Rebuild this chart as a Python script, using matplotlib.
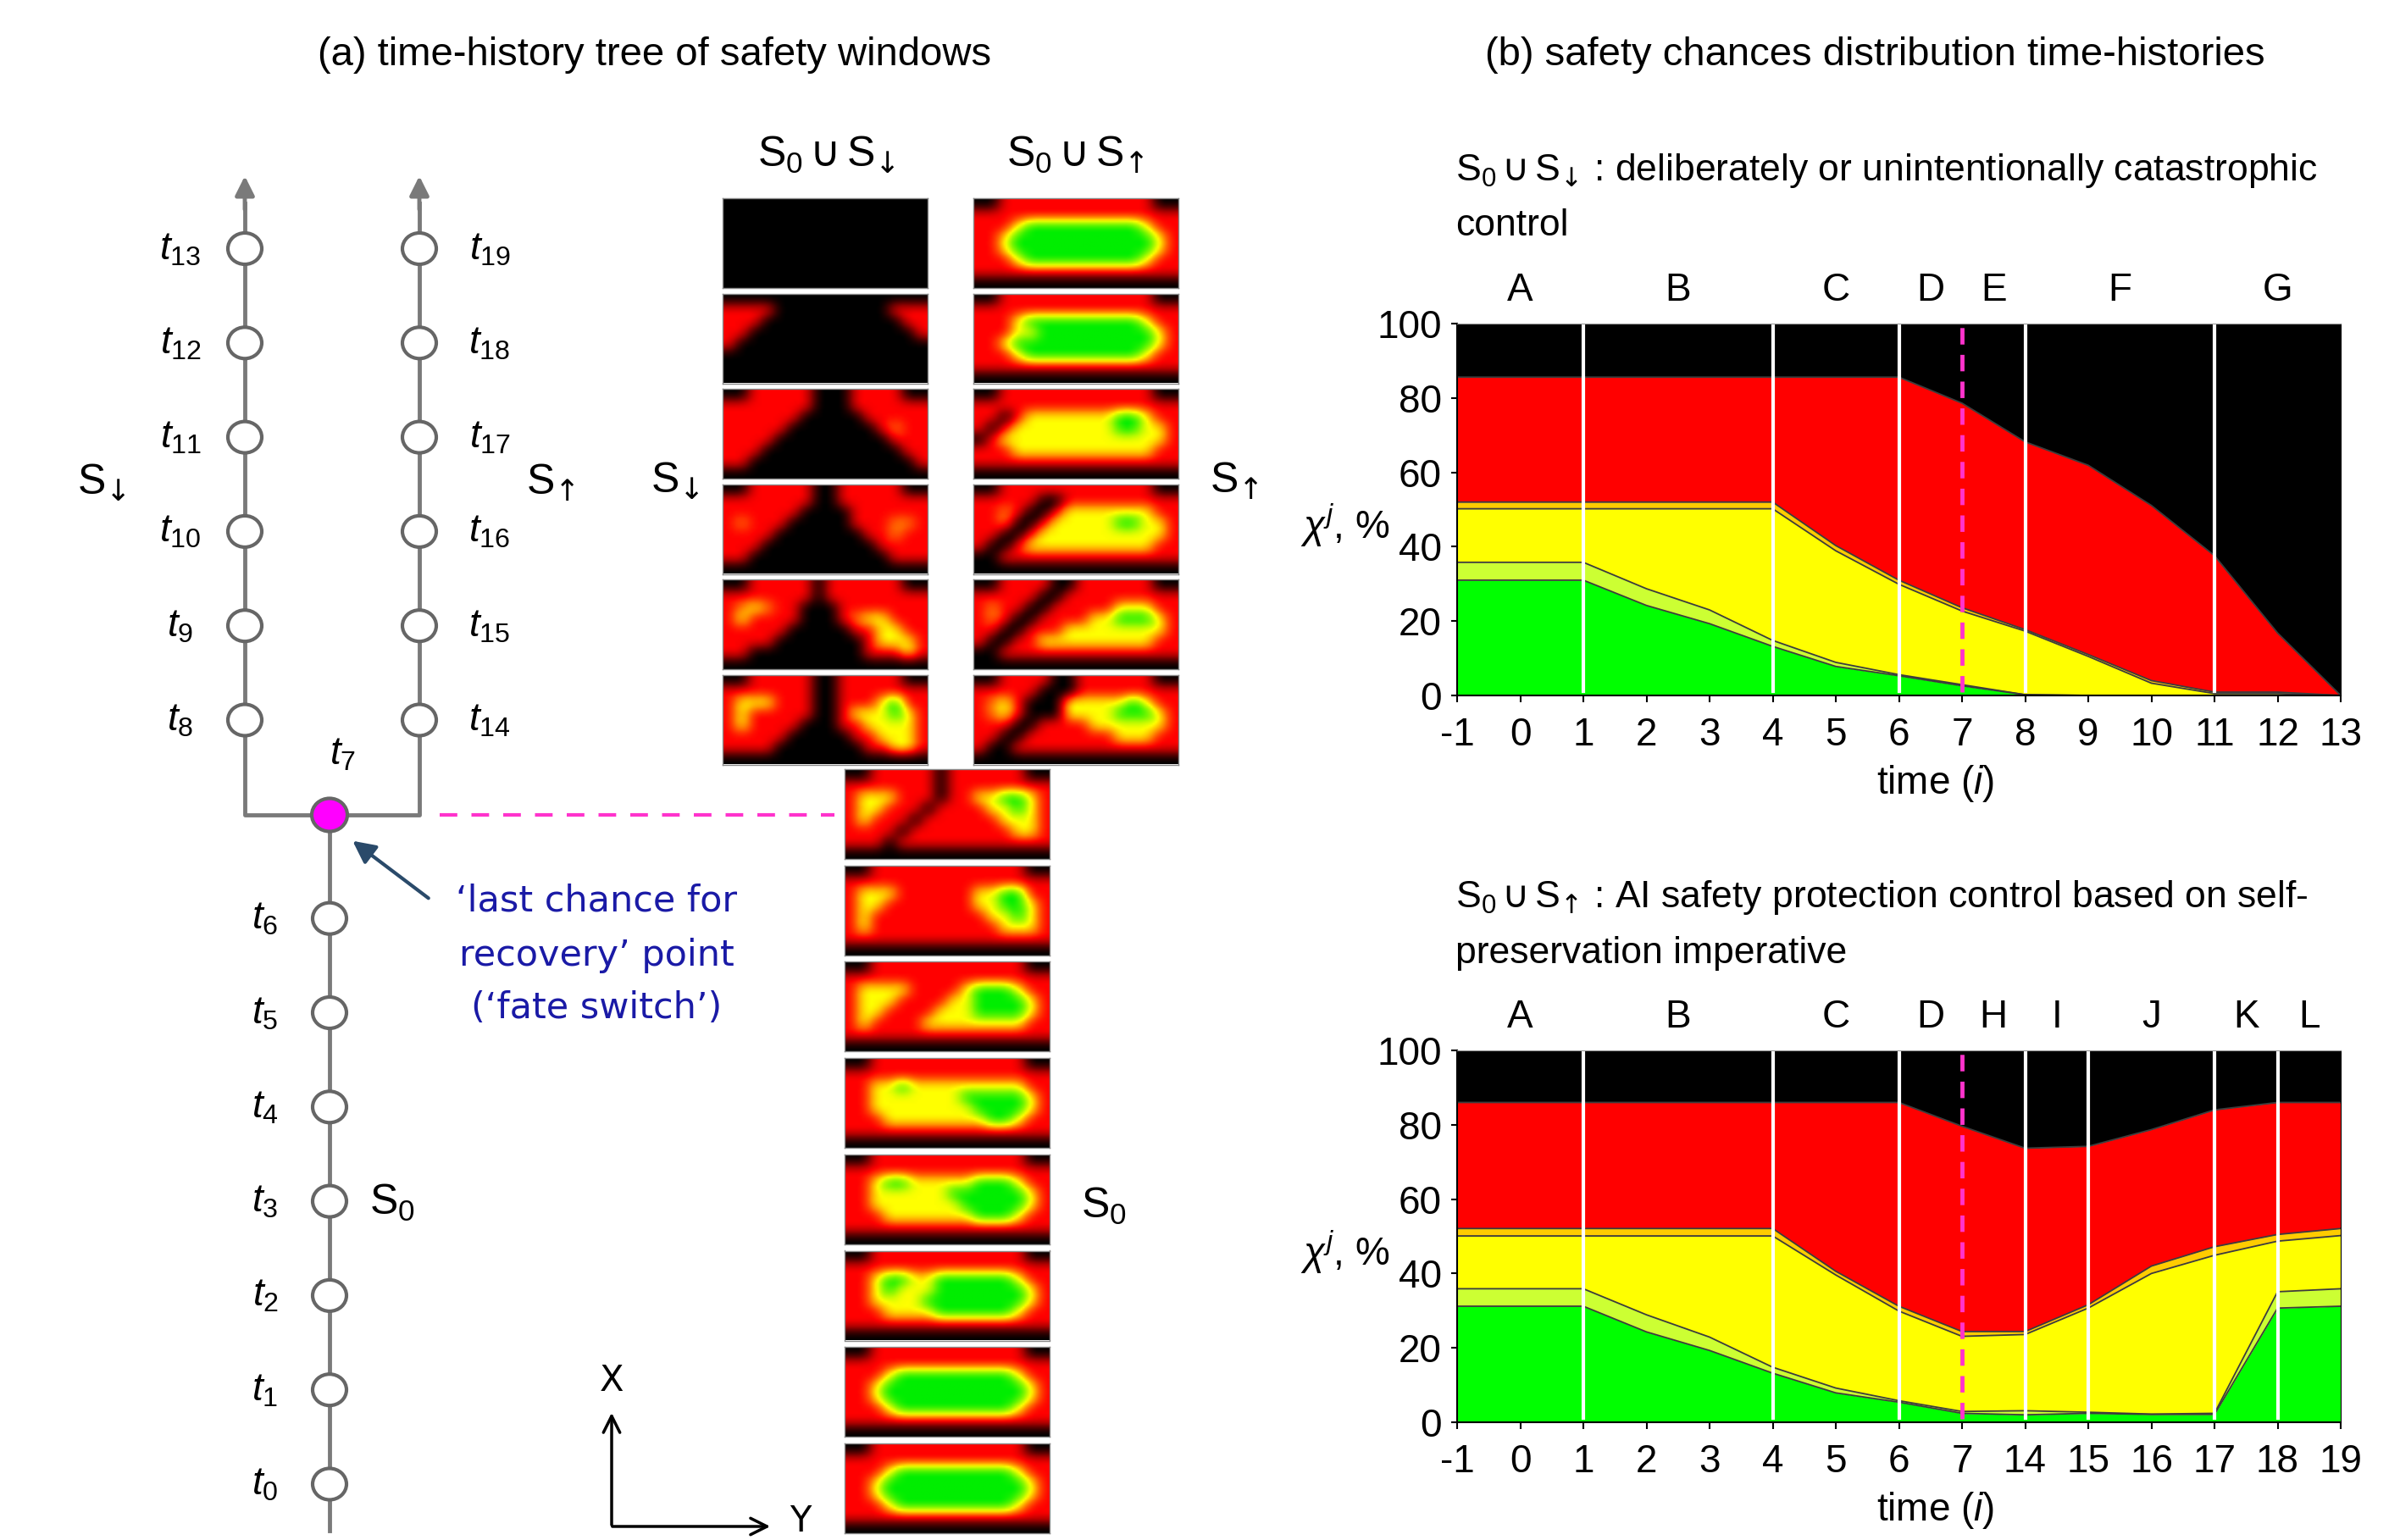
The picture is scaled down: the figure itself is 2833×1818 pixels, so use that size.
import numpy as np
import matplotlib
matplotlib.use('Agg')
import matplotlib.pyplot as plt
from matplotlib.colors import LinearSegmentedColormap
from matplotlib.patches import Ellipse

W, H = 2833, 1818
NARROW = ['Liberation Sans', 'DejaVu Sans']
plt.rcParams['mathtext.fontset'] = 'custom'
plt.rcParams['mathtext.rm'] = 'Liberation Sans'
plt.rcParams['mathtext.it'] = 'Liberation Sans:italic'
plt.rcParams['mathtext.sf'] = 'DejaVu Sans'
plt.rcParams['mathtext.fallback'] = 'stixsans'

# ---------------- chart data ----------------
times_top = ['-1', '0', '1', '2', '3', '4', '5', '6', '7', '8', '9', '10', '11', '12', '13']
times_bot = ['-1', '0', '1', '2', '3', '4', '5', '6', '7', '14', '15', '16', '17', '18', '19']
phases_top = ['A', 'B', 'C', 'D', 'E', 'F', 'G']
phases_bot = ['A', 'B', 'C', 'D', 'H', 'I', 'J', 'K', 'L']
white_top = ['1', '4', '6', '8', '11']
white_bot = ['1', '4', '6', '14', '15', '17', '18']
switch_time = '7'

# cumulative layer tops (%), bottom to top: green, light green, yellow, orange, red (black fills to 100)
green_top1 = [31, 31, 31, 24.2, 19.3, 13.2, 7.8, 5.3, 2.6, 0.2, 0, 0, 0, 0, 0]
lgreen_top1 = [35.8, 35.8, 35.8, 28.7, 23, 14.8, 8.9, 5.6, 2.9, 0.2, 0, 0, 0, 0, 0]
yellow_top1 = [50.2, 50.2, 50.2, 50.2, 50.2, 50.2, 38.9, 29.9, 22.7, 17.3, 10.5, 3.3, 0.5, 0.5, 0]
orange_top1 = [52, 52, 52, 52, 52, 52, 40.3, 31, 23.6, 17.7, 11, 4, 0.9, 0.9, 0]
red_top1 = [85.6, 85.6, 85.6, 85.6, 85.6, 85.6, 85.6, 85.6, 78.6, 68.2, 61.9, 51.1, 37.6, 16.8, 0]

green_top2 = [31.2, 31.2, 31.2, 24.3, 19.3, 13.2, 7.9, 5.4, 2.4, 2.0, 2.4, 2.1, 2.1, 30.7, 31.2]
lgreen_top2 = [35.9, 35.9, 35.9, 28.9, 22.9, 14.8, 9.2, 5.8, 2.9, 3.1, 2.7, 2.2, 2.4, 35.1, 35.9]
yellow_top2 = [50.1, 50.1, 50.1, 50.1, 50.1, 50.1, 39.6, 29.9, 23.1, 23.6, 30.7, 40, 44.9, 48.7, 50.2]
orange_top2 = [52.1, 52.1, 52.1, 52.1, 52.1, 52.1, 40.6, 31.2, 24.4, 24.4, 31.6, 42, 47.2, 50.5, 52.1]
red_top2 = [86, 86, 86, 86, 86, 86, 86, 86, 79.6, 73.7, 74.2, 78.7, 84, 86, 86]

layer_colors = ['#00ff00', '#ccff33', '#ffff00', '#ffcc00', '#ff0000', '#000000']

# ---------------- safety window tiles ----------------
# 0 black, 1 red, o orange, 2 yellow, 3 green
HEALTHY = ["0011111111111100",
           "1111111111111111",
           "1112333333333211",
           "1123333333333321",
           "1123333333333321",
           "1112333333333211",
           "1111111111111111",
           "0000000000000000"]
t2 = ["0011111111111100", "1111111111111111", "1123322333333211", "1123222333333321",
      "1122223333333321", "1112222333333211", "1111111111111111", "0000000000000000"]
t3 = ["0011111111111100", "1111111111111111", "1123322222333211", "1122222233333321",
      "1122222223333321", "1112222222333211", "1111111111111111", "0000000000000000"]
t4 = ["0011111111111100", "1111111111111111", "1122322222222211", "1122222223333321",
      "1122222222333321", "1112222222233211", "1111111111111111", "0000000000000000"]
t5 = ["0011111111111100", "1111111111111111", "1222211112333211", "1222111122333321",
      "1221111222333321", "1211112222222211", "1111111111111111", "0000000000000000"]
t6 = ["0011111111111100", "1111111111111111", "1222111111223311", "1221111111223321",
      "1211111111122321", "1211111111112221", "1111111111111111", "0000000000000000"]
t7 = ["0011111011111100", "1111111011111111", "1222111011223321", "1221110111122321",
      "1211101111112221", "1111011111111221", "1110111111111111", "0000000000000000"]
t8 = ["0011111001111100", "1111111001111111", "1222111001112311", "1211111001222321",
      "1211110001122221", "1111100000112221", "1111000000011221", "0000000000000000"]
t9 = ["0011111011111100", "1111111011111111", "1o2o110001111111", "1211110001o22111",
      "1111100000112211", "1111000000012221", "1100000000011121", "0000000000000000"]
t10 = ["0011111001111100", "1111111001111111", "1111110000111111", "1o11100000111oo1",
       "1111000000011o11", "1110000000001111", "1100000000000111", "0000000000000000"]
t11 = ["0011111000111100", "1111111000111111", "1111110000011111", "1111100000001o11",
       "1111000000000111", "1110000000000011", "1100000000000001", "0000000000000000"]
t12 = ["0000000000000000", "1111000000000111", "1110000000000011", "1100000000000001",
       "1000000000000000", "0000000000000000", "0000000000000000", "0000000000000000"]
t13 = ["0000000000000000"] * 8
t14 = ["0011110011111100", "1111100011111111", "1o21000222223211", "1o21000222233321",
       "1110011112222221", "1100111111122211", "1001111111111111", "0000000000000000"]
t15 = ["0011110011111100", "1111100111111111", "1o11001111122211", "1o10011112233321",
       "1100111222222221", "1001122222222211", "0011111111111111", "0000000000000000"]
t16 = ["0011111111111100", "1111100111111111", "11o1001222222211", "11o0012222233221",
       "1100122222222221", "1001222222222211", "0011111111111111", "0000000000000000"]
t17 = ["0011111111111100", "1111111111111111", "1101222222233211", "1012222222233221",
       "0122222222222221", "1112222222222211", "1111111111111111", "0000000000000000"]
t18 = ["0011111111111100", "1111111111111111", "1112333333333211", "1112233333333321",
       "1123333333333321", "1112333333333211", "1111111111111111", "0000000000000000"]

col_down = [t13, t12, t11, t10, t9, t8]
col_up = [HEALTHY, t18, t17, t16, t15, t14]
col_base = [t7, t6, t5, t4, t3, t2, HEALTHY, HEALTHY]

CODE = {'0': 0.0, '1': 1.0, 'o': 1.5, '2': 2.0, '3': 3.0}
safety_cmap = LinearSegmentedColormap.from_list(
    'safety', [(0, '#000000'), (1 / 3, '#ff0000'), (2 / 3, '#ffff00'), (1, '#00ee00')])

S_DOWN = '$\\mathrm{S}_{\\mathsf{\u2193}}$'
S_UP = '$\\mathrm{S}_{\\mathsf{\u2191}}$'
S0_DOWN = '$\\mathrm{S}_0\\,\\mathsf{\u222a}\\,\\mathrm{S}_{\\mathsf{\u2193}}$'
S0_UP = '$\\mathrm{S}_0\\,\\mathsf{\u222a}\\,\\mathrm{S}_{\\mathsf{\u2191}}$'


def fx(x):
    return x / W


def fy(y):
    return 1 - y / H


def smooth(grid, f=6, k=7):
    # upsample the coarse state grid and soften it like the blurred windows
    big = np.kron(grid, np.ones((f, f)))
    ker = np.ones(k) / k
    for axis in (0, 1):
        for _ in range(2):
            widths = [(k // 2, k // 2) if a == axis else (0, 0) for a in range(2)]
            pad = np.pad(big, widths, mode='edge')
            big = np.apply_along_axis(lambda v: np.convolve(v, ker, mode='valid'), axis, pad)
    return big


fig = plt.figure(figsize=(W / 100, H / 100), dpi=100)

# ---------------- canvas for the tree ----------------
cv = fig.add_axes([0, 0, 1, 1])
cv.set_xlim(0, W)
cv.set_ylim(H, 0)
cv.axis('off')

GRAY = '#7a7a7a'
trunk_x, left_x, right_x = 389, 289, 495
junction_y = 962
pitch = 111.3
trunk_ys = 1752 - pitch * np.arange(7)
branch_ys = 850 - pitch * np.arange(6)

cv.plot([trunk_x, trunk_x], [1807, junction_y], color=GRAY, lw=3.5, zorder=1)
cv.plot([left_x, left_x, right_x, right_x], [240, junction_y, junction_y, 240],
        color=GRAY, lw=3.5, zorder=1)
for bx in (left_x, right_x):
    cv.annotate('', xy=(bx, 205), xytext=(bx, 250),
                arrowprops=dict(arrowstyle='-|>', color=GRAY, lw=3.5, mutation_scale=34))

TFS = 33
for k, y in enumerate(trunk_ys):
    cv.add_patch(Ellipse((trunk_x, y), 40, 37, fc='white', ec='#666666', lw=3, zorder=3))
    cv.text(313, y, r'$t_{%d}$' % k, fontsize=TFS, ha='center', va='center')
for k, y in enumerate(branch_ys):
    cv.add_patch(Ellipse((left_x, y), 40, 37, fc='white', ec='#666666', lw=3, zorder=3))
    cv.add_patch(Ellipse((right_x, y), 40, 37, fc='white', ec='#666666', lw=3, zorder=3))
    cv.text(213, y, r'$t_{%d}$' % (k + 8), fontsize=TFS, ha='center', va='center')
    cv.text(578, y, r'$t_{%d}$' % (k + 14), fontsize=TFS, ha='center', va='center')
cv.add_patch(Ellipse((trunk_x, junction_y), 42, 39, fc='#ff00ff', ec='#666666', lw=3, zorder=3))
cv.text(404, 890, r'$t_{7}$', fontsize=TFS, ha='center', va='center')

cv.text(120, 570, S_DOWN, fontsize=36, ha='center', va='center')
cv.text(650, 570, S_UP, fontsize=36, ha='center', va='center')
cv.text(463, 1420, r'$\mathrm{S}_{0}$', fontsize=36, ha='center', va='center')

cv.plot([519, 985], [junction_y, junction_y], color='#ff33cc', lw=3, ls=(0, (5, 4)))

cv.annotate('', xy=(414, 991), xytext=(508, 1062),
            arrowprops=dict(arrowstyle='-|>', color='#2a4a6a', lw=3, mutation_scale=40))
for line, y in zip(['\u2018last chance for', 'recovery\u2019 point', '(\u2018fate switch\u2019)'],
                   [1064, 1128, 1190]):
    cv.text(704, y, line, fontsize=31, color='#1a1aa6', ha='center', va='center',
            family=['DejaVu Sans'])

# X / Y axes sketch
cv.annotate('', xy=(722, 1665), xytext=(722, 1803),
            arrowprops=dict(arrowstyle='->', color='black', lw=2.5, mutation_scale=35))
cv.annotate('', xy=(912, 1802), xytext=(720, 1802),
            arrowprops=dict(arrowstyle='->', color='black', lw=2.5, mutation_scale=35))
cv.text(722, 1630, 'X', fontsize=30, ha='center', va='center')
cv.text(945, 1796, 'Y', fontsize=30, ha='center', va='center')

# headers
cv.text(773, 65, '(a) time-history tree of safety windows', fontsize=34,
        ha='center', va='center', family=NARROW)
cv.text(2213, 65, '(b) safety chances distribution time-histories', fontsize=34,
        ha='center', va='center', family=NARROW)
cv.text(976, 183, S0_DOWN, fontsize=36, ha='center', va='center')
cv.text(1270, 183, S0_UP, fontsize=36, ha='center', va='center')
cv.text(797, 568, S_DOWN, fontsize=36, ha='center', va='center')
cv.text(1457, 568, S_UP, fontsize=36, ha='center', va='center')
cv.text(1303, 1424, r'$\mathrm{S}_{0}$', fontsize=36, ha='center', va='center')


# ---------------- tiles ----------------
def draw_tile(rows, x0, y0, w, h):
    grid = np.array([[CODE[c] for c in r] for r in rows])
    ax = fig.add_axes([fx(x0), fy(y0 + h), w / W, h / H])
    ax.imshow(smooth(grid), cmap=safety_cmap, vmin=0, vmax=3, aspect='auto',
              interpolation='bilinear')
    ax.set_xticks([])
    ax.set_yticks([])
    for s in ax.spines.values():
        s.set_color('#8a8a8a')
        s.set_linewidth(1)


for k, rows in enumerate(col_down):
    draw_tile(rows, 853, 234 + 112.5 * k, 242, 106)
for k, rows in enumerate(col_up):
    draw_tile(rows, 1149, 234 + 112.5 * k, 242, 106)
for k, rows in enumerate(col_base):
    draw_tile(rows, 997, 908 + 113.7 * k, 242, 106)


# ---------------- stacked area charts ----------------
def draw_chart(y_top, y_bot, times, bounds, whites, phases, title1, title2):
    ax = fig.add_axes([fx(1720), fy(y_bot), (2763 - 1720) / W, (y_bot - y_top) / H])
    x = np.arange(len(times))
    lower = np.zeros(len(x))
    tops = [np.array(b, dtype=float) for b in bounds] + [np.full(len(x), 100.0)]
    for top, col in zip(tops, layer_colors):
        ax.fill_between(x, lower, top, color=col, lw=0)
        lower = top
    for top in tops[:-1]:
        ax.plot(x, top, color='#3c3c3c', lw=1.3)
    idx = {t: i for i, t in enumerate(times)}
    for t in whites:
        ax.axvline(idx[t], color='white', lw=3, ymin=0.012)
    ax.axvline(idx[switch_time], color='#ff33cc', lw=3.5, ls=(0, (4, 2.5)), ymin=0.01)
    edges = sorted([0, len(x) - 1, idx[switch_time]] + [idx[t] for t in whites])
    for name, a, b in zip(phases, edges[:-1], edges[1:]):
        ax.text((a + b) / 2, 1.088, name, transform=ax.get_xaxis_transform(),
                fontsize=33, ha='center', va='center', family=NARROW)
    ax.set_xlim(0, len(x) - 1)
    ax.set_ylim(0, 100)
    ax.set_xticks(x)
    ax.set_xticklabels(times, family=NARROW, fontsize=33)
    ax.set_yticks(np.arange(0, 101, 20))
    ax.set_yticklabels([str(v) for v in range(0, 101, 20)], family=NARROW, fontsize=33)
    ax.tick_params(axis='x', length=6, width=1.5, pad=12)
    ax.tick_params(axis='y', length=5, width=1.5, pad=8)
    for s in ('left', 'bottom'):
        ax.spines[s].set_linewidth(1.5)
    ax.spines['top'].set_color('#999999')
    fig.text(fx(1588), fy((y_top + y_bot) / 2 + 19), r'$\chi^{j}$, %', fontsize=33,
             ha='center', va='center', family=NARROW)
    fig.text(fx(2285), fy(y_bot + 104), r'time $\mathit{(i)}$', fontsize=33,
             ha='center', va='center', family=NARROW)
    fig.text(fx(1718), fy(y_top - 180), title1, fontsize=32, ha='left', va='center', family=NARROW)
    fig.text(fx(1718), fy(y_top - 115), title2, fontsize=32, ha='left', va='center', family=NARROW)
    return ax


draw_chart(382, 821, times_top,
           [green_top1, lgreen_top1, yellow_top1, orange_top1, red_top1],
           white_top, phases_top,
           S0_DOWN + ' : deliberately or unintentionally catastrophic',
           'control')
draw_chart(1240, 1679, times_bot,
           [green_top2, lgreen_top2, yellow_top2, orange_top2, red_top2],
           white_bot, phases_bot,
           S0_UP + ' : AI safety protection control based on self-',
           'preservation imperative')

fig.savefig('out.png', dpi=100)
